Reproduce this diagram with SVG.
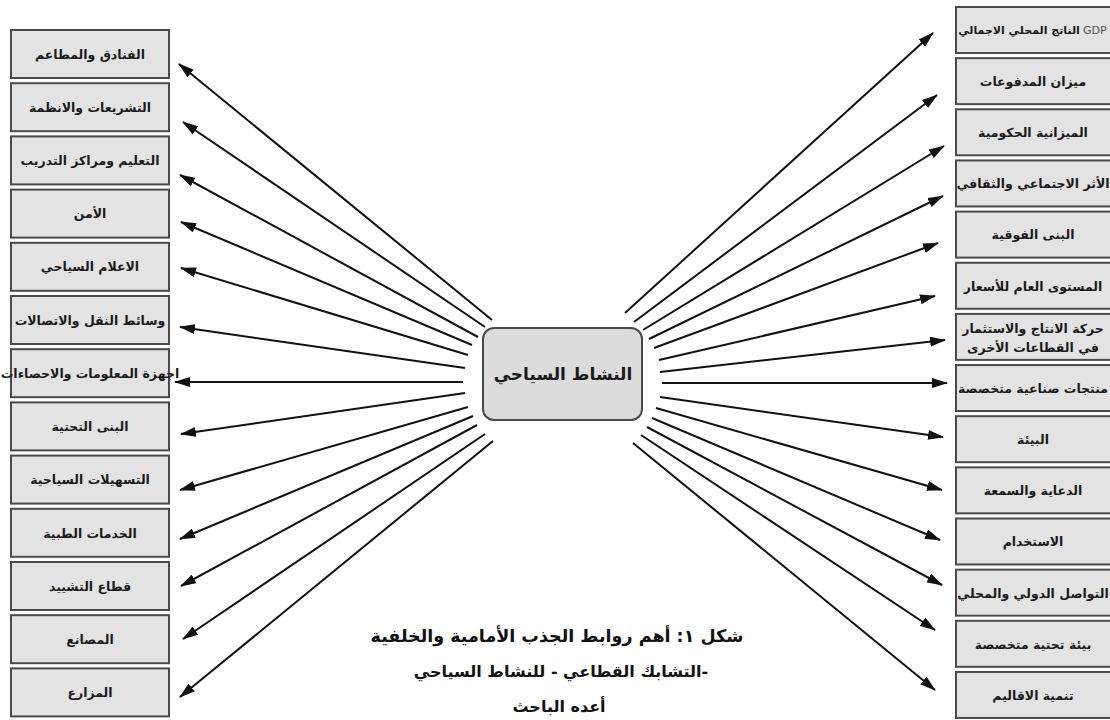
<svg xmlns="http://www.w3.org/2000/svg" width="1110" height="720" viewBox="0 0 1110 720">
<style>
.box{fill:#e3e3e3;stroke:#4a4a4a;stroke-width:2}
.lbl{font-family:"DejaVu Sans",sans-serif;font-weight:bold;font-size:12.5px;fill:#1a1a1a;text-anchor:middle;direction:rtl}
.cap{font-family:"DejaVu Sans",sans-serif;font-weight:bold;font-size:16px;fill:#111;text-anchor:middle;direction:rtl}
.ln{stroke:#111;stroke-width:2;fill:none;marker-end:url(#ah)}
</style>
<defs>
<marker id="ah" viewBox="0 0 16 10" refX="15" refY="5" markerWidth="16" markerHeight="10" markerUnits="userSpaceOnUse" orient="auto">
<path d="M0,0 L16,5 L0,10 Z" fill="#111"/>
</marker>
</defs>
<rect width="1110" height="720" fill="#fff"/>
<g id="connectors">
<line class="ln" x1="492" y1="320" x2="179" y2="64"/>
<line class="ln" x1="485" y1="327" x2="183" y2="122"/>
<line class="ln" x1="478" y1="337" x2="180" y2="175"/>
<line class="ln" x1="472" y1="345" x2="181" y2="222"/>
<line class="ln" x1="468" y1="355" x2="181" y2="268"/>
<line class="ln" x1="465" y1="368" x2="180" y2="327"/>
<line class="ln" x1="463" y1="382" x2="175" y2="382"/>
<line class="ln" x1="465" y1="393" x2="181" y2="434"/>
<line class="ln" x1="468" y1="407" x2="180" y2="490"/>
<line class="ln" x1="473" y1="416" x2="180" y2="539"/>
<line class="ln" x1="477" y1="425" x2="181" y2="586"/>
<line class="ln" x1="485" y1="434" x2="183" y2="639"/>
<line class="ln" x1="493" y1="441" x2="180" y2="697"/>
<line class="ln" x1="625" y1="313" x2="933" y2="33"/>
<line class="ln" x1="634" y1="322" x2="937" y2="95"/>
<line class="ln" x1="643" y1="330" x2="944" y2="146"/>
<line class="ln" x1="649" y1="339" x2="943" y2="196"/>
<line class="ln" x1="654" y1="348" x2="938" y2="243"/>
<line class="ln" x1="659" y1="360" x2="935" y2="296"/>
<line class="ln" x1="660" y1="372" x2="945" y2="340"/>
<line class="ln" x1="662" y1="383" x2="947" y2="383"/>
<line class="ln" x1="660" y1="397" x2="943" y2="437"/>
<line class="ln" x1="656" y1="408" x2="942" y2="490"/>
<line class="ln" x1="652" y1="418" x2="940" y2="540"/>
<line class="ln" x1="647" y1="427" x2="942" y2="585"/>
<line class="ln" x1="641" y1="435" x2="935" y2="630"/>
<line class="ln" x1="633" y1="443" x2="935" y2="690"/>
</g>
<g id="center">
<rect x="483" y="328" width="159" height="92" rx="11" fill="#dcdcdc" stroke="#4a4a4a" stroke-width="2"/>
<text x="563" y="380" class="lbl" style="font-size:17px">النشاط السياحي</text>
</g>
<g id="l1"><rect class="box" x="11" y="30" width="158" height="48"/><text class="lbl" x="90" y="59">الفنادق والمطاعم</text></g>
<g id="l2"><rect class="box" x="11" y="83.2" width="158" height="48"/><text class="lbl" x="90" y="112">التشريعات والانظمة</text></g>
<g id="l3"><rect class="box" x="11" y="136.4" width="158" height="48"/><text class="lbl" x="90" y="165">التعليم ومراكز التدريب</text></g>
<g id="l4"><rect class="box" x="11" y="189.6" width="158" height="48"/><text class="lbl" x="90" y="218">الأمن</text></g>
<g id="l5"><rect class="box" x="11" y="242.8" width="158" height="48"/><text class="lbl" x="90" y="271">الاعلام السياحي</text></g>
<g id="l6"><rect class="box" x="11" y="296" width="158" height="48"/><text class="lbl" x="90" y="325">وسائط النقل والاتصالات</text></g>
<g id="l7"><rect class="box" x="11" y="349.2" width="158" height="48"/><text class="lbl" x="90" y="378">اجهزة المعلومات والاحصاءات</text></g>
<g id="l8"><rect class="box" x="11" y="402.4" width="158" height="48"/><text class="lbl" x="90" y="431">البنى التحتية</text></g>
<g id="l9"><rect class="box" x="11" y="455.6" width="158" height="48"/><text class="lbl" x="90" y="484">التسهيلات السياحية</text></g>
<g id="l10"><rect class="box" x="11" y="508.8" width="158" height="48"/><text class="lbl" x="90" y="538">الخدمات الطبية</text></g>
<g id="l11"><rect class="box" x="11" y="562" width="158" height="48"/><text class="lbl" x="90" y="591">قطاع التشييد</text></g>
<g id="l12"><rect class="box" x="11" y="615.2" width="158" height="48"/><text class="lbl" x="90" y="644">المصانع</text></g>
<g id="l13"><rect class="box" x="11" y="668.4" width="158" height="48"/><text class="lbl" x="90" y="697">المزارع</text></g>
<g id="r1"><rect class="box" x="956" y="7" width="162" height="46"/><text class="lbl" x="1019" y="34" style="font-size:11px">الناتج المحلي الاجمالي</text><text x="1083" y="34" style="font-family:'DejaVu Sans',sans-serif;font-size:11px;fill:#555">GDP</text></g>
<g id="r2"><rect class="box" x="956" y="58.15" width="162" height="46"/><text class="lbl" x="1033" y="86">ميزان المدفوعات</text></g>
<g id="r3"><rect class="box" x="956" y="109.3" width="162" height="46"/><text class="lbl" x="1033" y="137">الميزانية الحكومية</text></g>
<g id="r4"><rect class="box" x="956" y="160.45" width="162" height="46"/><text class="lbl" x="1033" y="188">الأثر الاجتماعي والثقافي</text></g>
<g id="r5"><rect class="box" x="956" y="211.6" width="162" height="46"/><text class="lbl" x="1033" y="239">البنى الفوقية</text></g>
<g id="r6"><rect class="box" x="956" y="262.75" width="162" height="46"/><text class="lbl" x="1033" y="291">المستوى العام للأسعار</text></g>
<g id="r7"><rect class="box" x="956" y="313.9" width="162" height="46"/><text class="lbl" x="1033" y="333">حركة الانتاج والاستثمار</text><text class="lbl" x="1033" y="352">في القطاعات الأخرى</text></g>
<g id="r8"><rect class="box" x="956" y="365.05" width="162" height="46"/><text class="lbl" x="1033" y="393">منتجات صناعية متخصصة</text></g>
<g id="r9"><rect class="box" x="956" y="416.2" width="162" height="46"/><text class="lbl" x="1033" y="444">البيئة</text></g>
<g id="r10"><rect class="box" x="956" y="467.35" width="162" height="46"/><text class="lbl" x="1033" y="495">الدعاية والسمعة</text></g>
<g id="r11"><rect class="box" x="956" y="518.5" width="162" height="46"/><text class="lbl" x="1033" y="546">الاستخدام</text></g>
<g id="r12"><rect class="box" x="956" y="569.65" width="162" height="46"/><text class="lbl" x="1033" y="598">التواصل الدولي والمحلي</text></g>
<g id="r13"><rect class="box" x="956" y="620.8" width="162" height="46"/><text class="lbl" x="1033" y="649">بيئة تحتية متخصصة</text></g>
<g id="r14"><rect class="box" x="956" y="671.95" width="162" height="46"/><text class="lbl" x="1033" y="700">تنمية الاقاليم</text></g>
<g id="caption">
<text class="cap" x="557" y="642" style="font-size:17.5px">شكل ١: أهم روابط الجذب الأمامية والخلفية</text>
<text class="cap" x="561" y="677">-التشابك القطاعي - للنشاط السياحي</text>
<text class="cap" x="559" y="712">أعده الباحث</text>
</g>
</svg>
